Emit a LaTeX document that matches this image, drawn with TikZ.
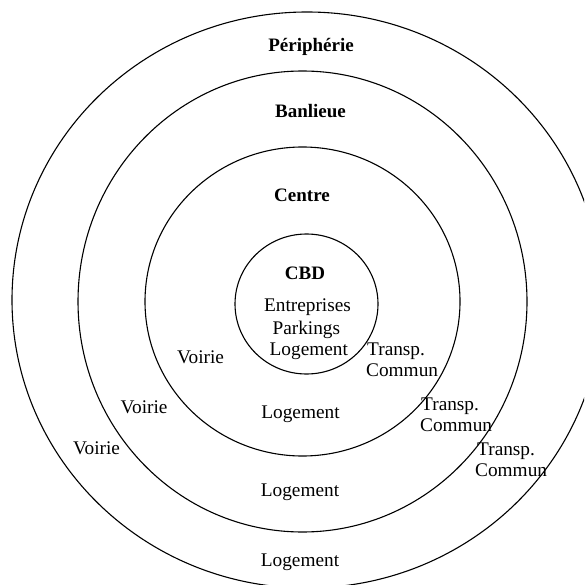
\documentclass[tikz,border=0pt]{standalone}
\usepackage{fontspec}
\setmainfont{Liberation Serif}
\begin{document}
\begin{tikzpicture}[x=1pt,y=-1pt,
  ring/.style={draw=black, line width=1.1pt},
  zone/.style={font=\bfseries\fontsize{19}{21}\selectfont, inner sep=0pt, anchor=base},
  lbl/.style={font=\fontsize{19.3}{21.5}\selectfont, inner sep=0pt, anchor=base},
  lblw/.style={lbl, anchor=base west}]
\fill[white] (0,0) rectangle (584,585);
\useasboundingbox (0,0) rectangle (584,585);
\clip (0,0) rectangle (584,585);

% concentric rings of the city
\draw[ring] (307,300) ellipse [x radius=295, y radius=288];
\draw[ring] (302.5,301.5) ellipse [x radius=224.5, y radius=230.5];
\draw[ring] (302.5,301.5) ellipse [x radius=157.5, y radius=154.5];
\draw[ring] (306.5,304) ellipse [x radius=71.5, y radius=70];

% zone names
\node[zone] (peri) at (311,51.5) {Périphérie};
\node[zone] (banl) at (310.5,118) {Banlieue};
\node[zone] (cent) at (302,201.5) {Centre};
\node[zone] (cbd)  at (305,279) {CBD};

% CBD contents
\node[lbl] (ent)  at (307.5,311.5) {Entreprises};
\node[lbl] (park) at (306.3,334) {Parkings};
\node[lbl] (log0) at (308.8,355) {Logement};

% housing in each ring
\node[lbl] (log1) at (300.5,418) {Logement};
\node[lbl] (log2) at (300,496) {Logement};
\node[lbl] (log3) at (300,566.5) {Logement};

% roads
\node[lblw] (voi1) at (177,363) {Voirie};
\node[lblw] (voi2) at (120.5,413) {Voirie};
\node[lblw] (voi3) at (73,454) {Voirie};

% public transport
\node[lblw] (tr1)  at (367,355) {Transp.};
\node[lblw] (co1)  at (366,376) {Commun};
\node[lblw] (tr2)  at (421,410) {Transp.};
\node[lblw] (co2)  at (420,431) {Commun};
\node[lblw] (tr3)  at (477,455) {Transp.};
\node[lblw] (co3)  at (475,476) {Commun};
\end{tikzpicture}
\end{document}
